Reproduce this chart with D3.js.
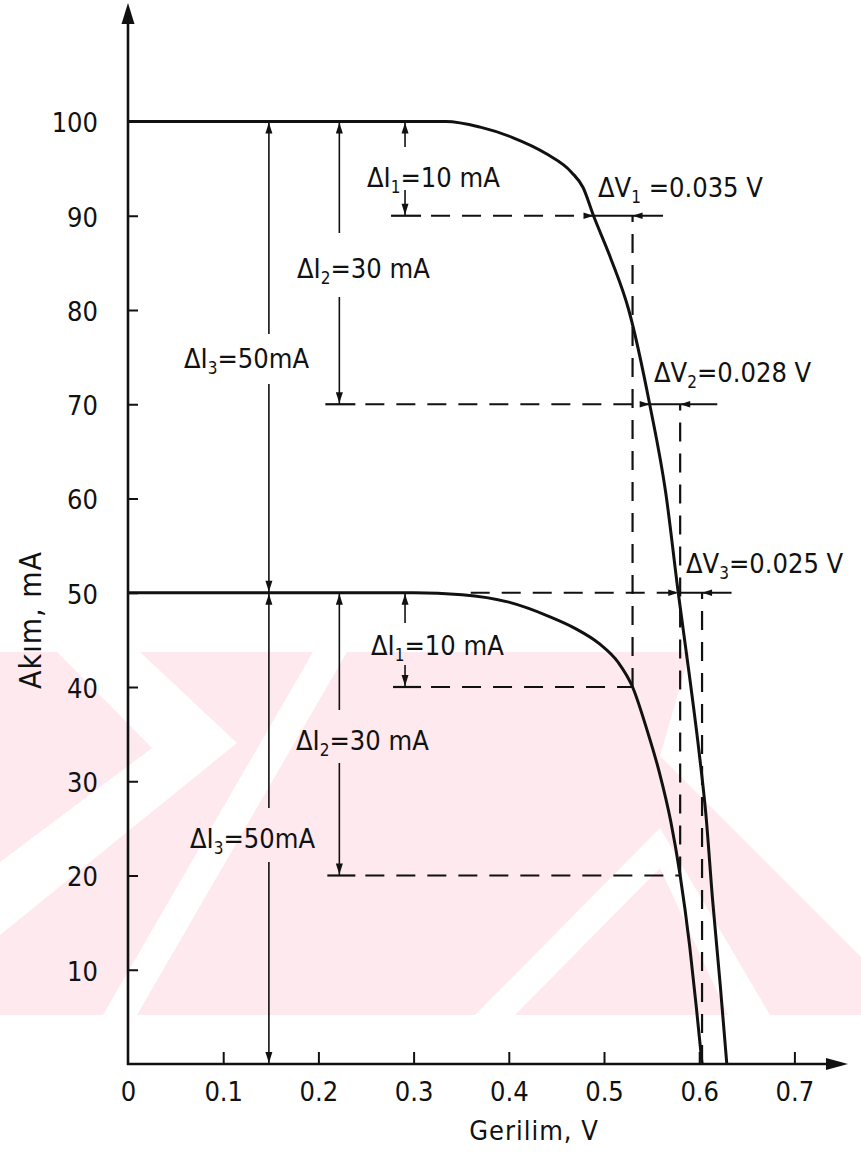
<!DOCTYPE html>
<html>
<head>
<meta charset="utf-8">
<script src="https://cdn.jsdelivr.net/npm/d3@7"></script>
<style>
    body{ margin:0; background:#fff; }
    text{ font-family:"DejaVu Sans Condensed","DejaVu Sans",sans-serif; fill:#111; }
</style>
</head>
<body>
<div id="chart"></div>
<script>

// ---- data ----
const xTicks = [0, 0.1, 0.2, 0.3, 0.4, 0.5, 0.6, 0.7];
const xTickLabels = ["0", "0.1", "0.2", "0.3", "0.4", "0.5", "0.6", "0.7"];
const yTicks = [10, 20, 30, 40, 50, 60, 70, 80, 90, 100];

// I-V curve, short circuit current 100 mA  [V, mA]
const curveHigh = [
    [0, 100], [0.10, 100], [0.20, 100], [0.30, 100], [0.334, 100], [0.37, 99.4],
    [0.404, 98.3], [0.439, 96.6], [0.466, 94.6], [0.478, 93.0], [0.489, 90],
    [0.507, 85.5], [0.526, 80], [0.548, 70], [0.565, 60.5], [0.578, 50],
    [0.590, 41], [0.600, 33], [0.607, 26.5], [0.614, 17.5], [0.622, 8.5], [0.629, 0]
];
// I-V curve, short circuit current 50 mA
const curveLow = [
    [0, 50], [0.20, 50], [0.30, 50], [0.351, 49.8], [0.40, 49.0], [0.442, 47.5],
    [0.470, 46.2], [0.495, 44.6], [0.515, 42.6], [0.530, 40], [0.545, 35.5],
    [0.558, 31], [0.570, 25.8], [0.580, 20], [0.590, 12.5], [0.597, 6], [0.603, 0]
];

// current drops and the voltage differences they give
const dI = [10, 30, 50];                 // mA
const dV = ["0.035", "0.028", "0.025"];  // V
const dIVolt = [0.291, 0.222, 0.148];    // V where the ΔI arrows stand
const iscHigh = 100;
const iscLow = 50;

// ---- drawing ----
const W = 861, H = 1153;
const svg = d3.select("#chart").append("svg")
    .attr("width", W)
    .attr("height", H);

const x = d3.scaleLinear().domain([0, 0.7]).range([128, 128 + 0.7 * 952]);
const y = d3.scaleLinear().domain([0, 100]).range([1064, 121.5]);

// watermark in the background (decoration, pixel shapes)
const wm = svg.append("g");
wm.append("rect").attr("x", 0).attr("y", 652).attr("width", W).attr("height", 363)
    .attr("fill", "#fde9ee");
const wmWhite = [
    [[313, 652], [347, 652], [137, 1015], [103, 1015]],
    [[57, 652], [140, 652], [237, 743], [0, 935], [0, 862], [152, 748]],
    [[660, 828], [770, 1015], [728, 1015], [660, 868], [515, 1015], [475, 1015]],
    [[690, 652], [861, 652], [861, 957], [660, 756]]
];
wm.selectAll("polygon").data(wmWhite).join("polygon")
    .attr("points", d => d.map(p => p.join(",")).join(" "))
    .attr("fill", "#fff");

// crossing voltage of a curve at a given current (linear between read points)
function voltAt(curve, amp){
    for (let i = 0; i < curve.length - 1; i++){
        let a = curve[i], b = curve[i + 1];
        if (amp <= a[1] && amp >= b[1] && a[1] !== b[1]){
            return a[0] + (b[0] - a[0]) * (a[1] - amp) / (a[1] - b[1]);
        }
    }
    return curve[curve.length - 1][0];
}

function arrowHead(g, px, py, dir, len, half){
    len = len || 11; half = half || 3.5;
    let pts;
    if (dir === "up")    pts = [[px, py], [px - half, py + len], [px + half, py + len]];
    if (dir === "down")  pts = [[px, py], [px - half, py - len], [px + half, py - len]];
    if (dir === "right") pts = [[px, py], [px - len, py - half], [px - len, py + half]];
    if (dir === "left")  pts = [[px, py], [px + len, py - half], [px + len, py + half]];
    g.append("path").attr("d", "M" + pts.map(p => p.join(",")).join("L") + "Z")
        .attr("fill", "#111");
}

function seg(g, x1, y1, x2, y2, w, dash){
    g.append("line")
        .attr("x1", x1).attr("y1", y1).attr("x2", x2).attr("y2", y2)
        .attr("stroke", "#111").attr("stroke-width", w)
        .attr("stroke-dasharray", dash || null);
}

const DASH = "19,12";
const ann = svg.append("g");

// pixel layout of the labels
const dILayoutHigh = [
    {left: 367, cy: 177, gap: [147, 190]},
    {left: 297, cy: 268, gap: [233, 297]},
    {left: 184, cy: 358, gap: [334, 384]}
];
const dILayoutLow = [
    {left: 371, cy: 645, gap: [623, 665]},
    {left: 296, cy: 740, gap: [710, 763]},
    {left: 190, cy: 838, gap: [808, 862]}
];
const dVLayout = [
    {left: 598, cy: 187, tail: 0.562},
    {left: 654, cy: 372, tail: 0.619},
    {left: 686, cy: 563, tail: 0.634}
];

function subLabel(g, left, cy, main, sub, rest){
    let t = g.append("text").attr("x", left).attr("y", cy + 10)
        .attr("font-size", 27);
    t.append("tspan").text(main);
    t.append("tspan").attr("font-size", 17).attr("dy", 6).text(sub);
    t.append("tspan").attr("dy", -6).text(rest);
}

function drawDI(isc, layout){
    dI.forEach((d, i) => {
        let px = x(dIVolt[i]);
        let top = y(isc), bot = y(isc - d);
        let lay = layout[i];
        seg(ann, px, top, px, lay.gap[0], 1.6);
        seg(ann, px, lay.gap[1], px, bot, 1.6);
        arrowHead(ann, px, top + 1, "up");
        arrowHead(ann, px, bot - 1, "down");
        subLabel(ann, lay.left, lay.cy, "ΔI", String(i + 1), "=" + d + (i === 2 ? "mA" : " mA"));
    });
}
drawDI(iscHigh, dILayoutHigh);
drawDI(iscLow, dILayoutLow);

// level lines and the ΔV dimensions
dI.forEach((d, i) => {
    let hiAmp = iscHigh - d, loAmp = iscLow - d;
    let vHi = voltAt(curveHigh, hiAmp);
    let vLo = voltAt(curveLow, loAmp);
    let yHi = y(hiAmp), yLo = y(loAmp);
    let stubHi = x(dIVolt[i]);

    // dashed line on the 100 mA curve's level
    if (i < 2){
        seg(ann, stubHi - 14, yHi, stubHi + 16, yHi, 2.2);
        seg(ann, stubHi + 26, yHi, x(vHi), yHi, 2.2, DASH);
    } else {
        seg(ann, x(0.36), yHi, x(vHi), yHi, 2.2, DASH);
    }
    // dashed line on the 50 mA curve's level
    if (loAmp > 0){
        seg(ann, stubHi - 12, yLo, stubHi + 16, yLo, 2.2);
        seg(ann, stubHi + 26, yLo, x(vLo), yLo, 2.2, DASH);
    }
    // vertical dashed from the low curve point up to the high level
    seg(ann, x(vLo), yLo, x(vLo), yHi, 2.2, DASH);

    // ΔV dimension
    seg(ann, x(vHi), yHi, x(dVLayout[i].tail), yHi, 2);
    arrowHead(ann, x(vHi), yHi, "right", 10, 3.2);
    arrowHead(ann, x(vLo), yHi, "left", 10, 3.2);
    subLabel(ann, dVLayout[i].left, dVLayout[i].cy, "ΔV", String(i + 1),
        (i === 0 ? " =" : "=") + dV[i] + " V");
});

// curves
const line = d3.line()
    .x(d => x(d[0]))
    .y(d => y(d[1]))
    .curve(d3.curveMonotoneX);

svg.selectAll("path.iv").data([curveHigh, curveLow]).join("path")
    .attr("class", "iv")
    .attr("d", line)
    .attr("fill", "none")
    .attr("stroke", "#111")
    .attr("stroke-width", 3);

// axes
const axG = svg.append("g");
const yAxis = d3.axisLeft(y)
    .tickValues(yTicks)
    .tickFormat(d3.format("d"))
    .tickSizeInner(-10)
    .tickSizeOuter(0)
    .tickPadding(30);
const yG = axG.append("g").attr("transform", "translate(128,0)").call(yAxis);

const xAxis = d3.axisBottom(x)
    .tickValues(xTicks)
    .tickFormat((d, i) => xTickLabels[i])
    .tickSizeInner(-12)
    .tickSizeOuter(0)
    .tickPadding(18);
const xG = axG.append("g").attr("transform", "translate(0,1064)").call(xAxis);

[yG, xG].forEach(g => {
    g.select(".domain").remove();
    g.selectAll(".tick line").attr("stroke", "#111").attr("stroke-width", 2);
    g.selectAll(".tick text")
        .attr("font-size", 27)
        .attr("font-family", "DejaVu Sans Condensed, DejaVu Sans, sans-serif")
        .attr("fill", "#111");
});
xG.selectAll(".tick").filter(d => d === 0).select("line").remove();
yG.selectAll(".tick text").attr("dy", "0.38em");

seg(axG, 128, 1065, 128, 20, 2.6);
seg(axG, 127, 1064, 830, 1064, 2.6);
axG.append("path").attr("d", "M128,3L121.5,24L134.5,24Z").attr("fill", "#111");
axG.append("path").attr("d", "M848,1064L826,1058L826,1070Z").attr("fill", "#111");

// axis titles
svg.append("text")
    .attr("transform", "translate(41,620) rotate(-90)")
    .attr("text-anchor", "middle")
    .attr("font-size", 30)
    .attr("letter-spacing", 1)
    .text("Akım, mA");

svg.append("text")
    .attr("x", 534).attr("y", 1140)
    .attr("text-anchor", "middle")
    .attr("font-size", 27)
    .attr("letter-spacing", 1)
    .text("Gerilim, V");

</script>
</body>
</html>
